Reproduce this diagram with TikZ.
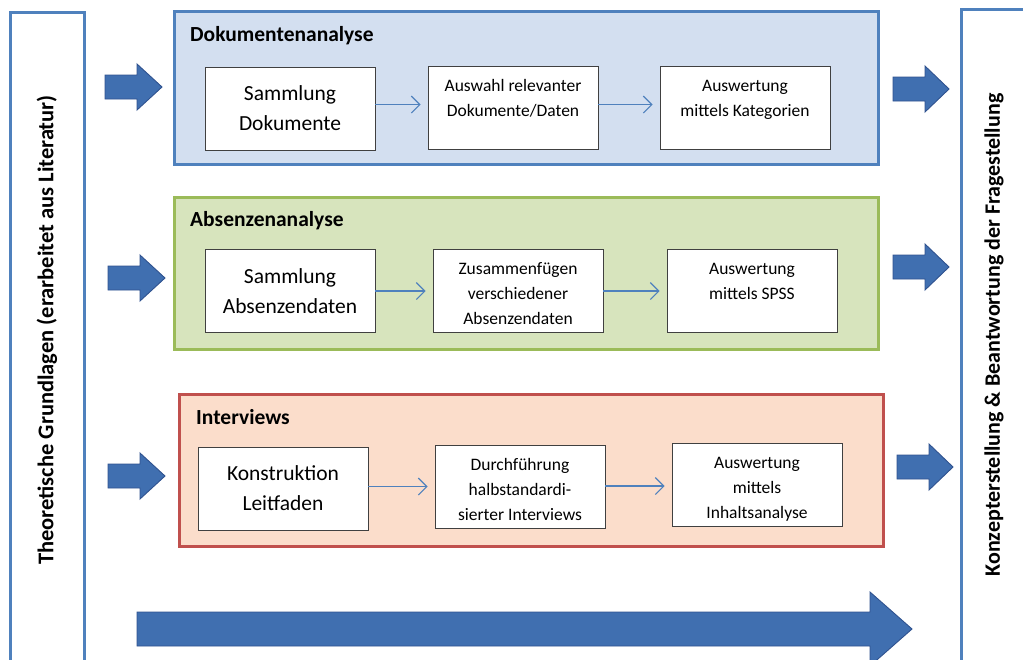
\documentclass[tikz,border=0pt]{standalone}
\usepackage{fontspec}
\setmainfont{Carlito}
\usepackage{tikz}
\usetikzlibrary{arrows.meta, calc}
\definecolor{frameblue}{RGB}{79,129,189}
\definecolor{fillblue}{RGB}{211,223,240}
\definecolor{framegreen}{RGB}{155,187,89}
\definecolor{fillgreen}{RGB}{215,228,189}
\definecolor{framered}{RGB}{192,80,77}
\definecolor{fillred}{RGB}{251,221,203}
\definecolor{arrowfill}{RGB}{64,111,176}
\definecolor{arrowdraw}{RGB}{47,82,143}
\tikzset{
    groupbox/.style={draw=#1, line width=3pt, anchor=north west, inner sep=0pt},
    grouptitle/.style={anchor=base west, font=\fontsize{21.5}{26}\selectfont\bfseries, inner sep=0pt},
    bigbox/.style={draw=black!75, line width=0.9pt, fill=white, minimum width=170pt, minimum height=83pt,
        align=center, font=\fontsize{21.5}{30}\selectfont},
    smallbox/.style={draw=black!75, line width=0.9pt, fill=white, minimum width=170pt, minimum height=83pt,
        inner sep=0pt, font=\fontsize{17.5}{25}\selectfont},
    flowarrow/.style={draw=frameblue, line width=1.1pt, shorten >=7pt,
        -{Straight Barb[length=8.5pt,width=17pt,line width=1.1pt]}},
    blockarrow/.style={fill=arrowfill, draw=arrowdraw, line width=0.9pt, line join=miter},
    sidetext/.style={rotate=90, font=\fontsize{22.5}{27}\selectfont\bfseries, inner sep=0pt}
}
% tail x, centre y, tip x, head length, shaft half width, head half width
\newcommand{\BlockArrow}[6]{
    \filldraw[blockarrow] (#1,#2-#5) -- (#3-#4,#2-#5) -- (#3-#4,#2-#6) -- (#3,#2)
        -- (#3-#4,#2+#6) -- (#3-#4,#2+#5) -- (#1,#2+#5) -- cycle;
}
\newcommand{\TopText}[1]{\parbox[c][80pt][t]{165pt}{\centering\rule{0pt}{23.5pt}#1}}

\begin{document}
\begin{tikzpicture}[x=1pt, y=-1pt]
    \useasboundingbox (0,0) rectangle (1023,659);
    \clip (0,0) rectangle (1023,659);

    % side columns
    \draw[frameblue, line width=3pt, fill=white] (10,12) rectangle (84,675);
    \draw[frameblue, line width=3pt, fill=white] (961,9) rectangle (1040,675);
    \node[sidetext] (theorie) at (47,330) {Theoretische Grundlagen (erarbeitet aus Literatur)};
    \node[sidetext, font=\fontsize{22}{27}\selectfont\bfseries] (konzept) at (994,335) {Konzepterstellung \& Beantwortung der Fragestellung};

    % groups
    \node[groupbox=frameblue, fill=fillblue, minimum width=704pt, minimum height=153pt] (dok) at (173,10) {};
    \node[groupbox=framegreen, fill=fillgreen, minimum width=704pt, minimum height=152pt] (abs) at (173,196) {};
    \node[groupbox=framered, fill=fillred, minimum width=704pt, minimum height=152pt] (int) at (178,393) {};
    \node[grouptitle] (dokT) at (190,41) {Dokumentenanalyse};
    \node[grouptitle] (absT) at (190,226) {Absenzenanalyse};
    \node[grouptitle] (intT) at (196,424) {Interviews};

    % Dokumentenanalyse
    \node[bigbox] (d1) at (290,108.5) {Sammlung\\Dokumente};
    \node[smallbox] (d2) at (513,107.5) {\TopText{Auswahl relevanter\\Dokumente/Daten}};
    \node[smallbox] (d3) at (745,107.5) {\TopText{Auswertung\\mittels Kategorien}};
    \draw[flowarrow] ($(d1.east)+(0,-4)$) -- ($(d1.east -| d2.west)+(0,-4)$);
    \draw[flowarrow] ($(d2.east)+(0,-3)$) -- ($(d2.east -| d3.west)+(0,-3)$);

    % Absenzenanalyse
    \node[bigbox] (a1) at (290,291) {Sammlung\\Absenzendaten};
    \node[smallbox] (a2) at (518,291) {\TopText{Zusammenfügen\\verschiedener\\Absenzendaten}};
    \node[smallbox] (a3) at (752,291) {\TopText{Auswertung\\mittels SPSS}};
    \draw[flowarrow] (a1.east) -- (a1.east -| a2.west);
    \draw[flowarrow] (a2.east) -- (a2.east -| a3.west);

    % Interviews
    \node[bigbox] (i1) at (283,488.5) {Konstruktion\\Leitfaden};
    \node[smallbox] (i2) at (520,487) {\TopText{Durchführung\\halbstandardi-\\sierter Interviews}};
    \node[smallbox] (i3) at (757,484.5) {\TopText{Auswertung\\mittels\\Inhaltsanalyse}};
    \draw[flowarrow] ($(i1.east)+(0,-2)$) -- ($(i1.east -| i2.west)+(0,-2)$);
    \draw[flowarrow] ($(i2.east)+(0,-1)$) -- ($(i2.east -| i3.west)+(0,-1)$);

    % block arrows
    \foreach \x/\y in {105/87, 108/278, 108/476}{
        \BlockArrow{\x}{\y}{\x+57}{25}{12}{23}
    }
    \foreach \x/\y in {893/89, 893/267, 897/467}{
        \BlockArrow{\x}{\y}{\x+56}{24}{12}{23}
    }
    \BlockArrow{137}{629}{912}{42}{17}{37}
\end{tikzpicture}
\end{document}
